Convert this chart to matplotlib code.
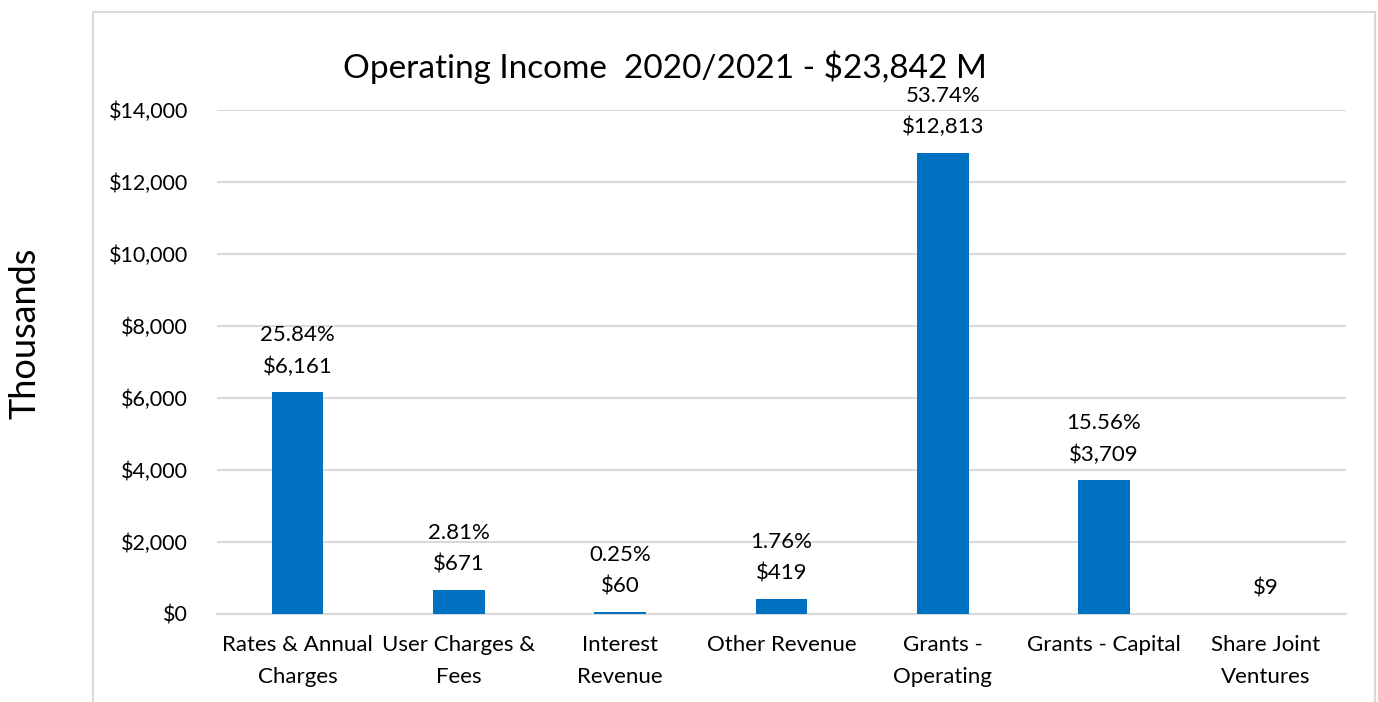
from matplotlib import pyplot as plt
from matplotlib.patches import Rectangle
from matplotlib.ticker import FuncFormatter

categories = ["Rates & Annual\nCharges", "User Charges &\nFees", "Interest\nRevenue",
              "Other Revenue", "Grants -\nOperating", "Grants - Capital", "Share Joint\nVentures"]
values = [6161, 671, 60, 419, 12813, 3709, 9]
shares = [25.84, 2.81, 0.25, 1.76, 53.74, 15.56, None]

barColor = "#0070C0"
gridColor = "#D9D9D9"
plt.rcParams['font.family'] = ['Lato', 'DejaVu Sans']

W, H = 1378, 702
fig = plt.figure(figsize=(W / 100, H / 100), dpi=100)

# chart frame, open at the bottom edge of the image
fig.patches.append(Rectangle((93 / W, -0.05), (1375 - 93) / W, 1.05 - 12 / H,
                             transform=fig.transFigure, fill=False,
                             edgecolor=gridColor, linewidth=1.5))

ax = fig.add_axes([217 / W, 1 - 614 / H, (1346 - 217) / W, (614 - 110) / H])
x = range(len(categories))
ax.bar(x, values, width=0.32, color=barColor, zorder=3)
ax.set_xlim(-0.5, len(categories) - 0.5)
ax.set_ylim(0, 14000)
ax.set_yticks(range(0, 14001, 2000))
ax.yaxis.set_major_formatter(FuncFormatter(lambda v, p: "${:,.0f}".format(v)))
ax.grid(axis='y', color=gridColor, linewidth=1.5, zorder=0)
for s in ax.spines.values():
    s.set_visible(False)
ax.spines['bottom'].set_visible(True)
ax.spines['bottom'].set_color(gridColor)
ax.spines['bottom'].set_linewidth(1.5)
ax.tick_params(axis='both', length=0, colors='black')
ax.tick_params(axis='y', pad=21, labelsize=15.5)
ax.tick_params(axis='x', pad=15, labelsize=16)
ax.set_xticks(list(x))
ax.set_xticklabels(categories, linespacing=1.75)

for i, (v, s) in enumerate(zip(values, shares)):
    label = "${:,}".format(v) if s is None else "{:.2f}%\n${:,}".format(s, v)
    ax.annotate(label, (i, v), xytext=(0, 11), textcoords='offset points',
                ha='center', va='bottom', fontsize=16, linespacing=1.7)

fig.text(665 / W, 1 - 67 / H, "Operating Income  2020/2021 - $23,842 M",
         ha='center', va='center', fontsize=24)
fig.text(25 / W, 1 - 333 / H, "Thousands", rotation=90,
         ha='center', va='center', fontsize=26)

fig.savefig("out.png", dpi=100)
